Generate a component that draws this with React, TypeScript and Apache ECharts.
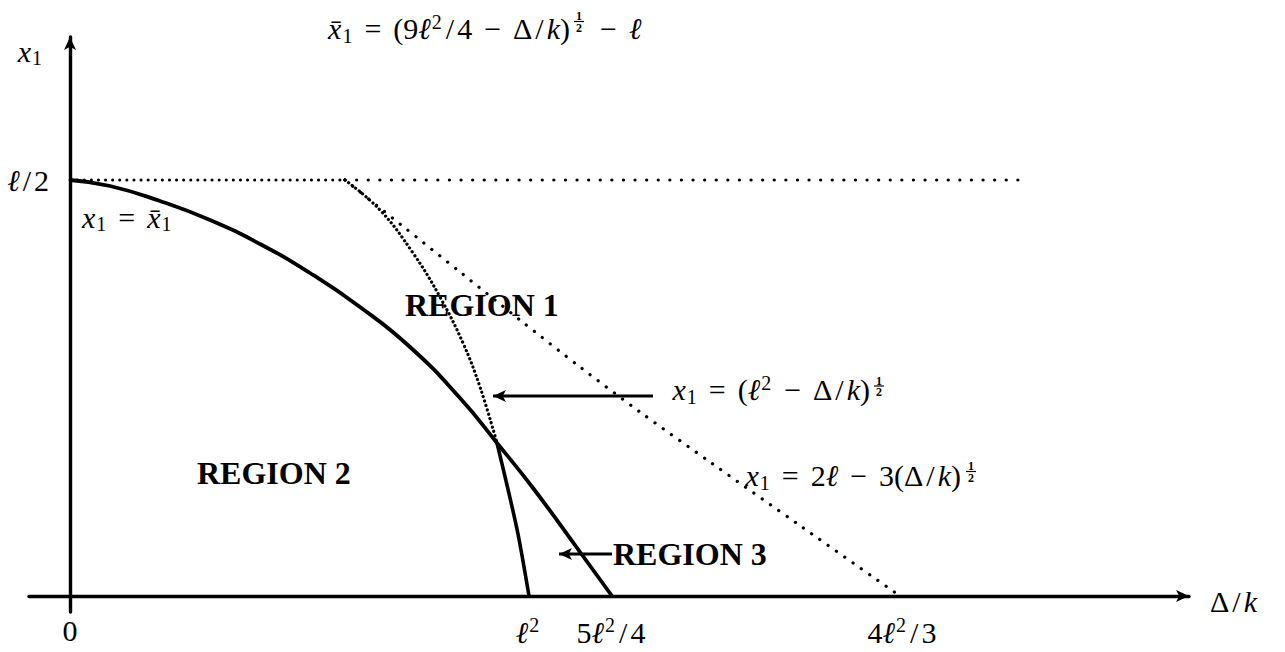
import React, { useEffect, useRef } from 'react';
import * as echarts from 'echarts';

// Schematic diagram. u = position along the Δ/k axis, v = position along the x1 axis
// (one unit is one pixel of the drawing; origin at the axes' crossing).
const curveXbar = [[0, 416], [40, 410], [90, 395], [140, 376], [190, 352], [240, 323], [290, 289], [340, 249], [390, 198], [427, 153], [463, 108], [510, 44], [542, 0]];
const curveSqrtDotted = [[275, 416], [310, 386], [343, 343], [370, 299], [393, 253], [410, 209], [427, 153]];
const curveSqrtSolid = [[427, 153], [437, 111], [448, 62], [459, 0]];
const curve2l = [[275, 416], [330, 372], [390, 324], [450, 276], [510, 229], [570, 184], [640, 134], [732, 69], [830, 0]];
const halfLineNear = [[0, 416], [275, 416]];
const halfLineFar = [[275, 416], [958, 416]];
const arrowSegments = [
  [[583, 200], [423, 200]],
  [[542, 42], [489, 42]],
];

const xTickValues = [0, 458, 541, 832];
const xTickLabels = ['0', '{i|ℓ}{sup|2}', '5{i|ℓ}{sup|2}{sl|/}4', '4{i|ℓ}{sup|2}{sl|/}3'];
const yTickValues = [416];
const yTickLabels = ['{i|ℓ}{sl|/}2'];
const xAxisName = '{n|Δ}{sl|/}{i|k}';
const yAxisName = '{i|x}{sub|1}';

const formula1Main = '{i|x̄}{sub|1}{op|=}{n|(9}{i|ℓ}{sup|2}{sl|/}{n|4}{op|−}{n|Δ}{sl|/}{i|k}{n|)}';
const formula1Tail = '{op|−}{i|ℓ}';
const formula2Main = '{i|x}{sub|1}{op|=}{n|(}{i|ℓ}{sup|2}{op|−}{n|Δ}{sl|/}{i|k}{n|)}';
const formula3Main = '{i|x}{sub|1}{op|=}{n|2}{i|ℓ}{op|−}{n|3(Δ}{sl|/}{i|k}{n|)}';
const boundaryLabel = '{i|x}{sub|1}{op|=}{i|x̄}{sub|1}';
const regionLabels = ['REGION 1', 'REGION 2', 'REGION 3'];

const MF = 'Liberation Serif, DejaVu Serif, serif';
const FS = 30;
const RICH: any = {
  i: { fontFamily: MF, fontSize: FS, fontStyle: 'italic', color: '#000' },
  n: { fontFamily: MF, fontSize: FS, color: '#000' },
  sub: { fontFamily: MF, fontSize: 20, color: '#000', padding: [14, 0, 0, 1] },
  sup: { fontFamily: MF, fontSize: 20, color: '#000', padding: [0, 1, 14, 1] },
  op: { fontFamily: MF, fontSize: FS, color: '#000', padding: [0, 12, 0, 12] },
  sl: { fontFamily: MF, fontSize: FS, color: '#000', padding: [0, 3, 0, 3] },
};

function mathText(text: string, x: number, y: number, align: string) {
  return {
    type: 'text',
    style: { text, x, y, align, verticalAlign: 'middle', rich: RICH, fontFamily: MF, fontSize: FS, fill: '#000' },
  };
}

function frac(x: number, yc: number) {
  const st = { fontFamily: MF, fontSize: 12, fontWeight: 'bold', fill: '#000', align: 'center', verticalAlign: 'middle' };
  return [
    { type: 'text', style: { ...st, text: '1', x: x + 5, y: yc - 5.5 } },
    { type: 'line', shape: { x1: x, y1: yc, x2: x + 10, y2: yc }, style: { stroke: '#000', lineWidth: 1.2 } },
    { type: 'text', style: { ...st, text: '2', x: x + 5, y: yc + 6 } },
  ];
}

function regionText(text: string, x: number, y: number) {
  return {
    type: 'text',
    style: { text, x, y, align: 'left', verticalAlign: 'middle', fontFamily: MF, fontSize: 32, fontWeight: 'bold', fill: '#000' },
  };
}

const lineBase = { type: 'line', symbol: 'none', showSymbol: false, silent: true };

const arrowSeries = arrowSegments.map(([a, b]) => ({
  type: 'line',
  silent: true,
  showSymbol: true,
  symbol: 'none',
  itemStyle: { color: '#000' },
  lineStyle: { color: '#000', width: 3 },
  data: [
    { value: a, symbol: 'none' },
    { value: b, symbol: 'arrow', symbolSize: [9, 13], symbolRotate: 90 },
  ],
}));

const option: any = {
  animation: false,
  backgroundColor: '#fff',
  grid: { left: 29, right: 96, top: 37, bottom: 40, containLabel: false, outerBoundsMode: 'none' },
  xAxis: {
    type: 'value',
    min: -41,
    max: 1119,
    axisLine: { onZero: true, lineStyle: { color: '#000', width: 3.4 }, symbol: ['none', 'arrow'], symbolSize: [9, 13] },
    axisTick: { show: false },
    splitLine: { show: false },
    axisLabel: {
      customValues: xTickValues,
      formatter: (v: number) => {
        const k = xTickValues.indexOf(v);
        return k >= 0 ? xTickLabels[k] : '';
      },
      margin: 3,
      fontFamily: MF,
      fontSize: FS,
      color: '#000',
      rich: RICH,
    },
    name: xAxisName,
    nameLocation: 'end',
    nameGap: 21,
    nameMoveOverlap: false,
    nameTextStyle: { fontFamily: MF, fontSize: FS, color: '#000', rich: RICH, align: 'left', verticalAlign: 'middle', padding: [10, 0, 0, 0] },
  },
  yAxis: {
    type: 'value',
    min: -16,
    max: 559,
    axisLine: { onZero: true, lineStyle: { color: '#000', width: 3.4 }, symbol: ['none', 'arrow'], symbolSize: [9, 13] },
    axisTick: { show: false },
    splitLine: { show: false },
    axisLabel: {
      customValues: yTickValues,
      formatter: (v: number) => {
        const k = yTickValues.indexOf(v);
        return k >= 0 ? yTickLabels[k] : '';
      },
      margin: -20,
      fontFamily: MF,
      fontSize: FS,
      color: '#000',
      rich: RICH,
    },
    name: yAxisName,
    nameLocation: 'end',
    nameGap: -14,
    nameMoveOverlap: false,
    nameTextStyle: { fontFamily: MF, fontSize: FS, color: '#000', rich: RICH, align: 'right', verticalAlign: 'middle', padding: [0, 28, 0, 0] },
  },
  series: [
    { ...lineBase, data: curveXbar, smooth: 0.5, lineStyle: { color: '#000', width: 3.8 }, z: 3 },
    { ...lineBase, data: curveSqrtDotted, smooth: 0.4, lineStyle: { color: '#000', width: 3.2, type: [0.1, 4.4], cap: 'round' } },
    { ...lineBase, data: curveSqrtSolid, smooth: 0.3, lineStyle: { color: '#000', width: 3.6 } },
    { ...lineBase, data: curve2l, smooth: 0.3, lineStyle: { color: '#000', width: 3.2, type: [0.1, 10], cap: 'round' } },
    { ...lineBase, data: halfLineNear, lineStyle: { color: '#000', width: 3, type: [0.1, 7], cap: 'round' } },
    { ...lineBase, data: halfLineFar, lineStyle: { color: '#000', width: 3.2, type: [0.1, 11.5], cap: 'round' } },
    ...arrowSeries,
  ],
  graphic: [
    mathText(formula1Main, 570, 28.5, 'right'),
    ...frac(574, 21.5),
    mathText(formula1Tail, 588, 28.5, 'left'),
    mathText(formula2Main, 870, 389.5, 'right'),
    ...frac(874, 386),
    mathText(formula3Main, 961, 475.5, 'right'),
    ...frac(966, 471.5),
    mathText(boundaryLabel, 82, 217, 'left'),
    regionText(regionLabels[0], 405, 305),
    regionText(regionLabels[1], 197, 473),
    regionText(regionLabels[2], 613, 554),
  ],
};

export default function App() {
  const ref = useRef<HTMLDivElement>(null);
  useEffect(() => {
    const chart = echarts.init(ref.current!, null, { renderer: 'svg' });
    chart.setOption(option);
    return () => chart.dispose();
  }, []);
  return <div ref={ref} style={{ position: 'fixed', left: 0, top: 0, width: 1285, height: 652, background: '#fff' }} />;
}
